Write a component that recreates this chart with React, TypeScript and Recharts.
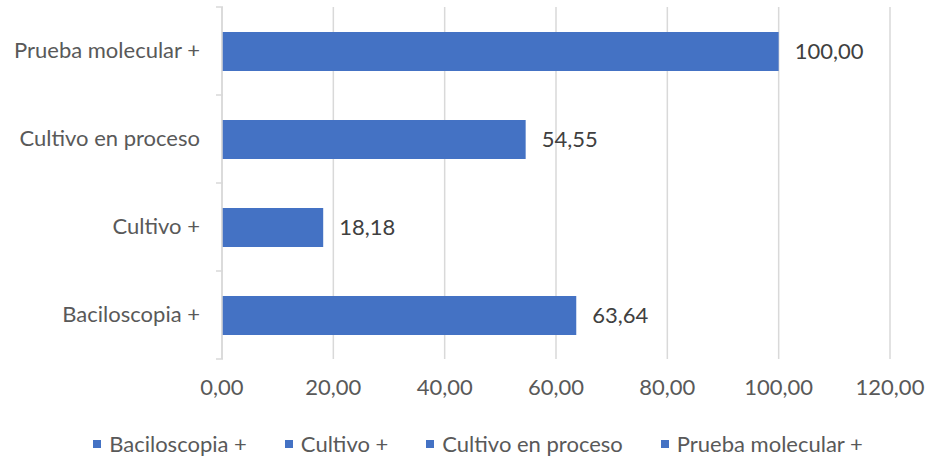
import React from "react";
import { BarChart, Bar, XAxis, YAxis, CartesianGrid, Legend, LabelList } from "recharts";

const categories = ["Baciloscopia +", "Cultivo +", "Cultivo en proceso", "Prueba molecular +"];
const values = [63.64, 18.18, 54.55, 100.0];
const xTicks = [0, 20, 40, 60, 80, 100, 120];

const data = categories.map((name, i) => ({ name, value: values[i] }));

const W = 925;
const H = 457;
const MARGIN = { top: 7, right: 35, left: 0, bottom: 0 };
const Y_AXIS_W = 222;
const X_AXIS_H = 50;
const LEGEND_H = 48;
const PLOT_H = H - MARGIN.top - MARGIN.bottom - X_AXIS_H - LEGEND_H;
const BAND = PLOT_H / categories.length;

const BLUE = "#4472C4";
const GRID = "#d9d9d9";
const TEXT = "#595959";
const FONT = "Lato, 'Open Sans', sans-serif";
const FS = 22;

const fmt = (v: number) => v.toFixed(2).replace(".", ",");

const CategoryTick = (props: any) => {
  const { x, y, payload, index } = props;
  return (
    <g>
      <line x1={x + 2} x2={x + 9} y1={y - BAND / 2} y2={y - BAND / 2} stroke={GRID} strokeWidth={1.5} />
      {index === 0 && (
        <line x1={x + 2} x2={x + 9} y1={y + BAND / 2} y2={y + BAND / 2} stroke={GRID} strokeWidth={1.5} />
      )}
      <text x={x - 14} y={y} dy={7} textAnchor="end" fill={TEXT} fontSize={FS} fontFamily={FONT}>
        {payload.value}
      </text>
    </g>
  );
};

const LegendContent = () => (
  <div
    style={{
      display: "flex",
      justifyContent: "center",
      gap: 38,
      paddingTop: 22,
      paddingLeft: 66,
      fontFamily: FONT,
      fontSize: FS,
      lineHeight: "26px",
      color: TEXT,
    }}
  >
    {categories.map((c) => (
      <div key={c} style={{ display: "flex", alignItems: "center" }}>
        <span style={{ width: 8, height: 8, background: BLUE, marginRight: 8, display: "inline-block" }} />
        <span>{c}</span>
      </div>
    ))}
  </div>
);

export default function App() {
  return (
    <div style={{ width: W, height: H, background: "#fff" }}>
      <style>{"body{margin:0}"}</style>
      <BarChart width={W} height={H} data={data} layout="vertical" margin={MARGIN}>
        <CartesianGrid horizontal={false} stroke={GRID} strokeWidth={1.5} />
        <XAxis
          type="number"
          domain={[0, 120]}
          ticks={xTicks}
          tickFormatter={fmt}
          axisLine={false}
          tickLine={false}
          height={X_AXIS_H}
          tickMargin={14}
          tick={{ fill: TEXT, fontSize: FS, fontFamily: FONT }}
          interval={0}
        />
        <YAxis
          type="category"
          dataKey="name"
          reversed
          width={Y_AXIS_W}
          axisLine={{ stroke: GRID, strokeWidth: 1.5 }}
          tickLine={false}
          tick={<CategoryTick />}
          interval={0}
        />
        <Legend verticalAlign="bottom" height={LEGEND_H} content={<LegendContent />} />
        <Bar dataKey="value" fill={BLUE} barSize={39} isAnimationActive={false}>
          <LabelList
            dataKey="value"
            position="right"
            offset={16}
            formatter={(v: any) => fmt(Number(v))}
            fill="#404040"
            fontSize={FS}
            fontFamily={FONT}
          />
        </Bar>
      </BarChart>
    </div>
  );
}
